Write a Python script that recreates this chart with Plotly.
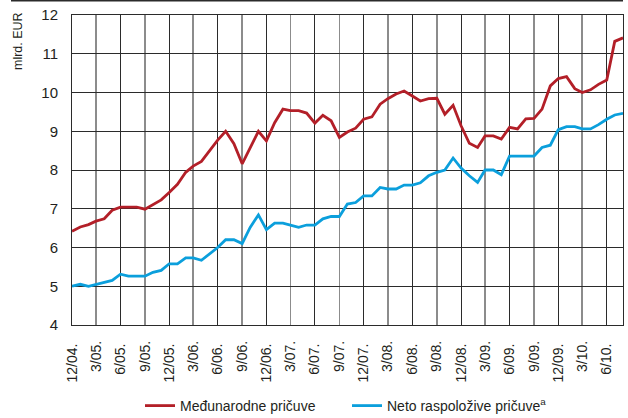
import pandas as pd
import plotly.graph_objects as go

# ---- data (monthly, 12/2004 - 8/2010), billions EUR ----
months = pd.date_range("2004-12-01", "2010-08-01", freq="MS")

intl_reserves = [
    6.42, 6.53, 6.59, 6.68, 6.74, 6.96, 7.04, 7.04, 7.04, 6.99, 7.11, 7.23,
    7.42, 7.63, 7.94, 8.10, 8.22, 8.50, 8.77, 9.00, 8.68, 8.16, 8.59, 9.00,
    8.75, 9.22, 9.57, 9.53, 9.53, 9.47, 9.21, 9.41, 9.27, 8.84, 8.98, 9.08,
    9.31, 9.37, 9.70, 9.84, 9.96, 10.04, 9.91, 9.78, 9.84, 9.85, 9.44, 9.67,
    9.14, 8.69, 8.58, 8.88, 8.88, 8.80, 9.10, 9.06, 9.32, 9.33, 9.57, 10.17,
    10.36, 10.41, 10.10, 10.00, 10.07, 10.21, 10.32, 11.32, 11.41,
]

net_reserves = [
    5.00, 5.05, 5.00, 5.05, 5.10, 5.15, 5.31, 5.26, 5.26, 5.26, 5.36, 5.41,
    5.58, 5.58, 5.73, 5.73, 5.67, 5.84, 6.00, 6.20, 6.20, 6.10, 6.52, 6.84,
    6.46, 6.63, 6.63, 6.58, 6.52, 6.58, 6.58, 6.74, 6.80, 6.80, 7.12, 7.16,
    7.33, 7.33, 7.55, 7.51, 7.51, 7.61, 7.61, 7.67, 7.85, 7.94, 8.00, 8.31,
    8.05, 7.85, 7.68, 8.00, 8.00, 7.88, 8.36, 8.36, 8.36, 8.36, 8.58, 8.64,
    9.04, 9.12, 9.12, 9.06, 9.06, 9.17, 9.31, 9.42, 9.46,
]

tick_labels = [
    "12/04.", "3/05.", "6/05.", "9/05.", "12/05.", "3/06.", "6/06.", "9/06.",
    "12/06.", "3/07.", "6/07.", "9/07.", "12/07.", "3/08.", "6/08.", "9/08.",
    "12/08.", "3/09.", "6/09.", "9/09.", "12/09.", "3/10.", "6/10.",
]

series_names = ["Međunarodne pričuve", "Neto raspoložive pričuve<sup>a</sup>"]
y_ticks = [4, 5, 6, 7, 8, 9, 10, 11, 12]


def label_to_date(s):
    m, y = s.rstrip(".").split("/")
    return pd.Timestamp(year=2000 + int(y), month=int(m), day=1)


tick_dates = [label_to_date(s) for s in tick_labels]
major_dates, major_text = tick_dates[0::2], tick_labels[0::2]
minor_dates, minor_text = tick_dates[1::2], tick_labels[1::2]

FONT = "Liberation Sans, Arial, sans-serif"
TXT = "#231f20"
RED = "#b31f28"
BLUE = "#0b9fdc"
DARK = "#2b2b2b"
GREY = "#8c8c8c"

fig = go.Figure()
fig.add_trace(go.Scatter(
    x=months, y=intl_reserves, mode="lines", name=series_names[0],
    line=dict(color=RED, width=2.8), xaxis="x", yaxis="y",
))
fig.add_trace(go.Scatter(
    x=months, y=net_reserves, mode="lines", name=series_names[1],
    line=dict(color=BLUE, width=2.8), xaxis="x2", yaxis="y",
))

xrange = [months[0], months[-1]]

fig.update_layout(
    width=628, height=418, autosize=False,
    margin=dict(l=72, r=5, t=15, b=93),
    paper_bgcolor="white", plot_bgcolor="white",
    font=dict(family=FONT, size=14, color=TXT),
    hovermode=False,
    xaxis=dict(
        type="date", range=xrange, automargin=False,
        tickmode="array", tickvals=major_dates, ticktext=major_text,
        tickangle=-90, ticks="", ticklabelstandoff=12,
        tickfont=dict(size=14),
        showgrid=True, gridcolor=DARK, gridwidth=1,
        minor=dict(tickmode="array", tickvals=minor_dates, showgrid=True,
                   gridcolor=GREY, gridwidth=1.6, ticks=""),
        showline=True, linecolor=DARK, linewidth=1, mirror=True,
        zeroline=False,
    ),
    xaxis2=dict(
        type="date", range=xrange, overlaying="x", matches="x", anchor="y",
        side="bottom", automargin=False,
        tickmode="array", tickvals=minor_dates, ticktext=minor_text,
        tickangle=-90, ticks="", ticklabelstandoff=12,
        tickfont=dict(size=14),
        showgrid=False, showline=False, zeroline=False,
    ),
    yaxis=dict(
        range=[4, 12], tickmode="array", tickvals=y_ticks, automargin=False,
        ticks="", ticklabelstandoff=10, tickfont=dict(size=15),
        showgrid=True, gridcolor=DARK, gridwidth=1,
        showline=True, linecolor=DARK, linewidth=1, mirror=True,
        zeroline=False,
    ),
    legend=dict(
        orientation="h", xref="container", yref="container",
        x=140 / 628, y=1 - 406 / 418, xanchor="left", yanchor="middle",
        font=dict(family=FONT, size=14, color=TXT),
        entrywidth=162, entrywidthmode="pixels",
        bgcolor="rgba(0,0,0,0)", borderwidth=0,
    ),
    annotations=[dict(
        text="mlrd. EUR", textangle=-90, showarrow=False,
        xref="paper", yref="paper", x=0, y=1,
        xanchor="center", yanchor="top", xshift=-54, yshift=5,
        font=dict(family=FONT, size=12.5, color=TXT),
    )],
    shapes=[dict(
        type="line", xref="paper", yref="paper",
        x0=(11 - 72) / 551, x1=1.0, y0=(325 - 0.8) / 310, y1=(325 - 0.8) / 310,
        line=dict(color=DARK, width=1.5),
    )],
)

fig.write_html(
    "out.html",
    config={"displayModeBar": False, "staticPlot": True},
    post_script="document.body.style.margin='0';document.body.style.overflow='hidden';",
)
